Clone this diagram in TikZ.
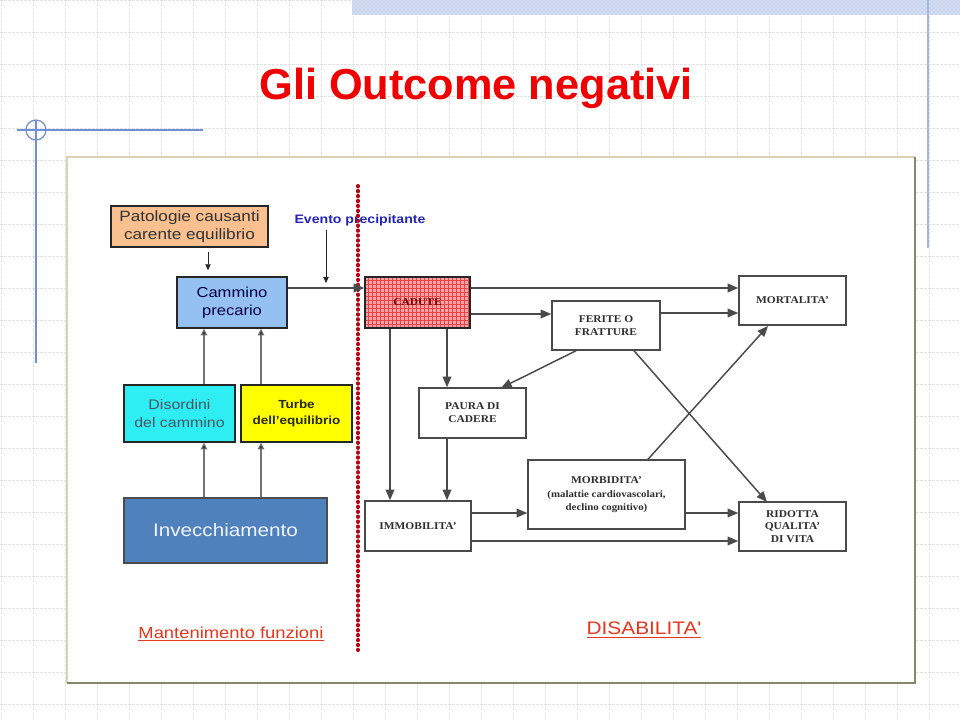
\documentclass[tikz,border=0pt]{standalone}
\usepackage{fontspec}
\setmainfont{Liberation Serif}
\newfontfamily\arialx[FakeStretch=1.15]{Liberation Sans}
\newfontfamily\timesx[FakeStretch=1.1]{Liberation Serif}
\newfontfamily\titlef{Liberation Sans}
\usetikzlibrary{arrows.meta,patterns}
\definecolor{gridc}{HTML}{E2E2E2}
\definecolor{bandc}{HTML}{C9D3EE}
\definecolor{decoc}{HTML}{6E8FD8}
\definecolor{decoc2}{HTML}{A6B4E0}
\definecolor{titlered}{HTML}{F00000}
\definecolor{framelight}{HTML}{D6D2B8}
\definecolor{framedark}{HTML}{86866A}
\definecolor{patfill}{HTML}{FAC090}
\definecolor{camfill}{HTML}{94C0F2}
\definecolor{disfill}{HTML}{2EEEF4}
\definecolor{turfill}{HTML}{FFFF00}
\definecolor{invfill}{HTML}{4F81BD}
\definecolor{cadfill}{HTML}{F5A3A3}
\definecolor{cadgrid}{HTML}{E8454A}
\definecolor{evblue}{HTML}{2323B8}
\definecolor{dotred}{HTML}{B8000E}
\definecolor{mantred}{HTML}{E8361E}
\definecolor{linec}{HTML}{4A4A4A}
\definecolor{boxtext}{HTML}{2E2E2E}
\begin{document}
\begin{tikzpicture}[x=0.75pt,y=-0.75pt,
  gridl/.style={draw=gridc, line width=0.5pt, dash pattern=on 2pt off 1pt},
  sz/.style 2 args={minimum width={#1*0.75pt}, minimum height={#2*0.75pt}},
  cbox/.style={draw=black!85, line width=1.1pt, inner sep=0pt, align=center},
  sbox/.style={draw=linec, line width=1.1pt, inner sep=0pt, align=center, fill=white,
    text=boxtext, font=\timesx\bfseries\fontsize{7.8}{9.6}\selectfont},
  arr/.style={draw=linec, line width=1.1pt, -{Triangle[length=8pt,width=6.5pt]}},
  smallarr/.style={draw=black!55, line width=0.8pt, -{Triangle[length=5pt,width=5pt,fill=black!80]}},
  thinarr/.style={draw=black!85, line width=0.6pt, -{Triangle[length=4.5pt,width=4pt]}}]
\useasboundingbox (0,0) rectangle (960,720);
\fill[white] (0,0) rectangle (960,720);
% background grid
\foreach \gx in {1,33,...,961} \draw[gridl] (\gx,0) -- (\gx,720);
\foreach \gy in {0,32,...,720} \draw[gridl] (0,\gy) -- (960,\gy);
% top band
\fill[bandc] (352,0) rectangle (960,15);
\fill[pattern=crosshatch dots, pattern color=white] (352,0) rectangle (960,15);
% blue decorations
\draw[decoc, line width=0.9pt] (17,130) -- (203,130);
\draw[decoc, line width=0.9pt] (36,120) -- (36,363);
\draw[decoc, line width=0.9pt] (36,130) circle (10);
\draw[decoc2, line width=2pt] (928,0) -- (928,248);
% title
\node[anchor=base, text=titlered, font=\titlef\bfseries\fontsize{32.5}{38}\selectfont] (title) at (476,100) {Gli Outcome negativi};
% frame
\fill[white] (67,157) rectangle (915,683);
\draw[framelight, line width=0.8pt] (67,683) -- (67,157) -- (915,157);
\draw[framedark, line width=1.5pt] (915,157) -- (915,683) -- (67,683);

% left side boxes
\node[cbox, fill=patfill, text=black!80, font=\arialx\fontsize{11.2}{13}\selectfont,
  sz={157}{41}] (pat) at (189.5,226.5) {Patologie causanti\\carente equilibrio};
\node[cbox, fill=camfill, text=black!75!blue, font=\arialx\fontsize{10.8}{13.5}\selectfont,
  sz={110}{51}] (cam) at (232,302.5) {Cammino\\precario};
\node[cbox, fill=disfill, text=black!70!cyan, font=\arialx\fontsize{10.4}{13}\selectfont,
  sz={111}{57}] (dis) at (179.5,413.5) {Disordini\\del cammino};
\node[cbox, fill=turfill, text=black!85, font=\arialx\bfseries\fontsize{8.8}{12}\selectfont,
  sz={111}{57}] (tur) at (296.5,413.5) {Turbe\\dell’equilibrio};
\node[cbox, fill=invfill, draw=black!70, text=white!95!blue, font=\arialx\fontsize{13.5}{16}\selectfont,
  sz={203}{65}] (inv) at (225.5,530.5) {Invecchiamento};

% evento precipitante
\node[text=evblue, font=\arialx\bfseries\fontsize{9.2}{11}\selectfont] (ev) at (360,220) {Evento precipitante};
\coordinate (evtip) at (326,283);

% red dotted border
\coordinate (dtop) at (358,186);
\coordinate (dbot) at (358,650);
\draw[dotred, line width=3pt, line cap=round, dash pattern=on 0.3pt off 3.4pt] (dtop) -- (dbot);

% right side boxes
\node[draw=black!85, line width=1.1pt, inner sep=0pt, preaction={fill=cadfill},
  pattern=grid, pattern color=cadgrid, text=red!45!black,
  font=\timesx\bfseries\fontsize{7.8}{9}\selectfont,
  sz={105}{51}] (cad) at (417.5,302.5) {CADUTE};
\node[sbox, sz={108}{49}] (fer) at (606,325.5) {FERITE O\\FRATTURE};
\node[sbox, sz={107}{49}] (mor) at (792.5,300.5) {MORTALITA’};
\node[sbox, sz={107}{50}] (pau) at (472.5,413) {PAURA DI\\CADERE};
\node[sbox, sz={157}{69}] (morb) at (606.5,494.5) {MORBIDITA’\\[1pt]{\fontsize{7.4}{9.6}\selectfont (malattie cardiovascolari,}\\{\fontsize{7.4}{9.6}\selectfont declino cognitivo)}};
\node[sbox, sz={106}{50}] (imm) at (418,526) {IMMOBILITA’};
\node[sbox, sz={107}{49}] (rid) at (792.5,526.5) {RIDOTTA\\QUALITA’\\DI VITA};

% bottom labels
\node[text=mantred, font=\arialx\fontsize{12}{14}\selectfont] (mant) at (231,634) {\underline{Mantenimento funzioni}};
\node[text=mantred, font=\arialx\fontsize{13.6}{16}\selectfont] (disab) at (644,630) {\underline{DISABILITA'}};

% connectors left
\draw[thinarr, shorten <=3.5pt, shorten >=4.5pt] (pat.south -| 208,0) -- (cam.north -| 208,0);
\draw[thinarr] (ev.south -| evtip) -- (evtip);
\draw[smallarr] (inv.north -| 204,0) -- (dis.south -| 204,0);
\draw[smallarr] (inv.north -| 261,0) -- (tur.south -| 261,0);
\draw[smallarr] (dis.north -| 204,0) -- (cam.south -| 204,0);
\draw[smallarr] (tur.north -| 261,0) -- (cam.south -| 261,0);
\draw[arr] (cam.east |- 0,288) -- (cad.west |- 0,288);

% connectors right
\draw[arr] (cad.east |- 0,288) -- (mor.west |- 0,288);
\draw[arr] (cad.east |- 0,314) -- (fer.west |- 0,314);
\draw[arr] (fer.east |- 0,313) -- (mor.west |- 0,313);
\draw[arr] (cad.south -| 390,0) -- (imm.north -| 390,0);
\draw[arr] (cad.south -| 447,0) -- (pau.north -| 447,0);
\draw[arr] (pau.south -| 447,0) -- (imm.north -| 447,0);
\draw[arr] (fer.south -| 576,0) -- (501,388);
\draw[arr] (fer.south -| 634,0) -- (767,502);
\draw[arr] (morb.north -| 648,0) -- (768,326);
\draw[arr] (imm.east |- 0,513) -- (morb.west |- 0,513);
\draw[arr] (morb.east |- 0,513) -- (rid.west |- 0,513);
\draw[arr] (imm.east |- 0,541) -- (rid.west |- 0,541);
\end{tikzpicture}
\end{document}
